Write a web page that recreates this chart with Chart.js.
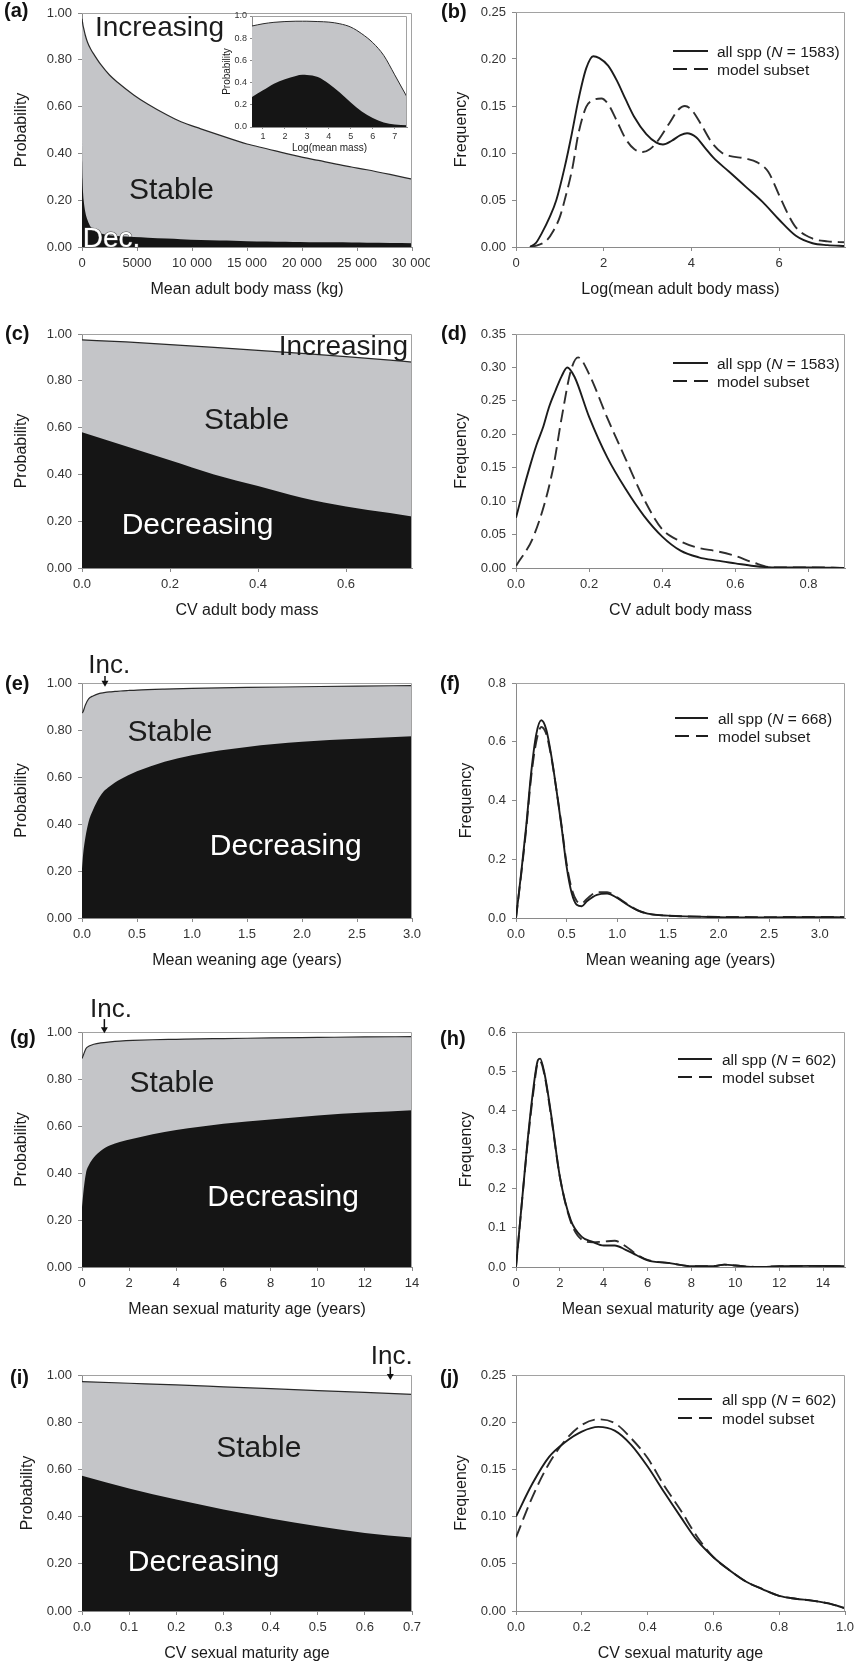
<!DOCTYPE html>
<html><head><meta charset="utf-8">
<script src="https://cdn.jsdelivr.net/npm/chart.js@4.4.1/dist/chart.umd.min.js"></script>
<style>
html,body{margin:0;padding:0;background:#fff;overflow:hidden;width:856px;height:1663px;position:relative;}
canvas{position:absolute;}
</style></head><body>
<script>
// ================= DATA =================
// (a) probability vs mean adult body mass (kg)
const A_X   = [0,20,50,100,150,300,500,800,1100,1700,2500,3200,4700,6000,7700,9000,10800,12500,13800,15000,16800,18500,19800,21500,22900,24500,25900,28000,30000];
const A_TOP = [0.975,0.968,0.96,0.945,0.935,0.905,0.875,0.845,0.822,0.78,0.735,0.705,0.65,0.61,0.565,0.535,0.505,0.478,0.458,0.44,0.42,0.40,0.386,0.37,0.356,0.342,0.33,0.31,0.29];
const A_DEC = [0.46,0.36,0.29,0.23,0.2,0.15,0.115,0.085,0.07,0.058,0.05,0.047,0.043,0.04,0.036,0.033,0.03,0.028,0.027,0.025,0.024,0.022,0.021,0.02,0.02,0.019,0.018,0.017,0.016];
const A_XTICKS = [0,5000,10000,15000,20000,25000,30000];
const A_XLABELS = ['0','5000','10 000','15 000','20 000','25 000','30 000'];
// inset of (a): log(mean mass)
const IN_X   = [0.5,1,1.5,2,2.5,2.8,3,3.5,4,4.5,5,5.5,6,6.5,7,7.56];
const IN_TOP = [0.91,0.93,0.943,0.95,0.953,0.953,0.953,0.95,0.945,0.93,0.9,0.84,0.76,0.645,0.47,0.27];
const IN_DEC = [0.27,0.33,0.39,0.43,0.46,0.47,0.468,0.45,0.39,0.31,0.22,0.14,0.08,0.04,0.022,0.015];
const IN_XTICKS = [1,2,3,4,5,6,7];
const IN_YTICKS = [0,0.2,0.4,0.6,0.8,1.0];
// (b) frequency of log(mean adult body mass)
const B_SOLID_X = [0.32,0.45,0.58,0.77,0.92,1.11,1.27,1.42,1.6,1.76,1.9,2.1,2.3,2.5,2.7,2.97,3.2,3.35,3.55,3.75,3.9,4.1,4.3,4.5,4.86,5.24,5.62,6.0,6.38,6.76,7.1,7.5];
const B_SOLID_Y = [0,0.004,0.014,0.032,0.05,0.085,0.12,0.156,0.19,0.203,0.201,0.193,0.177,0.157,0.138,0.12,0.111,0.109,0.113,0.119,0.121,0.117,0.106,0.095,0.08,0.064,0.048,0.029,0.012,0.004,0.002,0.001];
const B_DASH_X  = [0.32,0.5,0.7,0.85,1.0,1.11,1.29,1.42,1.6,1.75,1.95,2.1,2.29,2.5,2.7,2.89,3.05,3.2,3.5,3.7,3.85,4.0,4.2,4.48,4.7,4.86,5.24,5.5,5.75,6.0,6.2,6.38,6.76,7.1,7.5];
const B_DASH_Y  = [0,0.002,0.007,0.017,0.032,0.05,0.085,0.12,0.149,0.156,0.158,0.152,0.135,0.115,0.104,0.101,0.104,0.111,0.132,0.146,0.15,0.146,0.132,0.11,0.1,0.097,0.094,0.09,0.08,0.055,0.035,0.021,0.009,0.006,0.005];
const B_XTICKS = [0,2,4,6];
const B_YTICKS = [0,0.05,0.10,0.15,0.20,0.25];
const B_N = 1583;
// (c) probability vs CV adult body mass
const C_X   = [0,0.1,0.2,0.3,0.4,0.5,0.6,0.7,0.75];
const C_TOP = [0.975,0.966,0.955,0.943,0.93,0.917,0.903,0.888,0.88];
const C_DEC = [0.58,0.52,0.46,0.40,0.35,0.30,0.263,0.235,0.22];
const C_XTICKS = [0,0.2,0.4,0.6];
// (d) frequency of CV adult body mass
const D_SOLID_X = [0,0.019,0.038,0.056,0.075,0.09,0.107,0.125,0.14,0.16,0.2,0.25,0.3,0.35,0.4,0.45,0.5,0.55,0.6,0.65,0.7,0.8,0.9];
const D_SOLID_Y = [0.075,0.115,0.152,0.184,0.212,0.24,0.264,0.287,0.30,0.286,0.226,0.165,0.118,0.078,0.047,0.026,0.016,0.011,0.007,0.003,0.001,0.001,0];
const D_DASH_X  = [0,0.05,0.1,0.125,0.15,0.17,0.2,0.25,0.3,0.35,0.4,0.45,0.5,0.55,0.6,0.65,0.7,0.8,0.9];
const D_DASH_Y  = [0.003,0.05,0.145,0.225,0.295,0.315,0.29,0.224,0.163,0.103,0.058,0.04,0.03,0.025,0.018,0.008,0.001,0.001,0];
const D_XTICKS = [0,0.2,0.4,0.6,0.8];
const D_YTICKS = [0,0.05,0.10,0.15,0.20,0.25,0.30,0.35];
const D_N = 1583;
// (e) probability vs mean weaning age
const E_X   = [0,0.01,0.03,0.06,0.1,0.16,0.2,0.25,0.3,0.35,0.42,0.5,0.75,1.0,1.5,2.0,2.5,3.0];
const E_TOP = [0.872,0.878,0.905,0.932,0.945,0.956,0.959,0.962,0.964,0.966,0.968,0.97,0.974,0.977,0.981,0.984,0.987,0.989];
const E_DEC = [0.21,0.27,0.34,0.41,0.46,0.515,0.54,0.56,0.577,0.59,0.607,0.624,0.665,0.693,0.728,0.75,0.763,0.773];
const E_XTICKS = [0,0.5,1.0,1.5,2.0,2.5,3.0];
// (f) frequency of mean weaning age
const F_X       = [0,0.05,0.1,0.15,0.2,0.25,0.3,0.35,0.4,0.45,0.5,0.55,0.6,0.65,0.7,0.8,0.9,1.0,1.1,1.2,1.3,1.5,2.0,2.5,3.0,3.25];
const F_SOLID_Y = [0,0.15,0.31,0.495,0.625,0.673,0.64,0.55,0.435,0.31,0.175,0.085,0.045,0.04,0.057,0.079,0.083,0.068,0.045,0.026,0.015,0.008,0.003,0.002,0.003,0.002];
const F_DASH_Y  = [0,0.145,0.30,0.48,0.60,0.65,0.625,0.545,0.435,0.315,0.185,0.1,0.058,0.05,0.065,0.088,0.088,0.07,0.047,0.027,0.015,0.008,0.004,0.003,0.004,0.003];
const F_XTICKS = [0,0.5,1.0,1.5,2.0,2.5,3.0];
const F_YTICKS = [0,0.2,0.4,0.6,0.8];
const F_N = 668;
// (g) probability vs mean sexual maturity age
const G_X   = [0,0.05,0.17,0.3,0.5,0.8,1.2,1.6,2.16,3.0,4.0,5.0,6.0,8.0,10.0,12.0,14.0];
const G_TOP = [0.887,0.9,0.93,0.94,0.948,0.954,0.958,0.961,0.964,0.967,0.969,0.971,0.972,0.975,0.977,0.979,0.98];
const G_DEC = [0.255,0.31,0.40,0.435,0.466,0.495,0.518,0.532,0.546,0.565,0.583,0.597,0.61,0.628,0.645,0.657,0.667];
const G_XTICKS = [0,2,4,6,8,10,12,14];
// (h) frequency of mean sexual maturity age
const H_X       = [0,0.5,0.8,1.0,1.1,1.3,1.6,2.0,2.5,3.0,3.5,4.0,4.5,5.0,5.5,6.0,7.0,8.0,9.0,9.5,10,11,12,13.5,15];
const H_SOLID_Y = [0,0.306,0.46,0.528,0.532,0.494,0.39,0.23,0.119,0.077,0.064,0.055,0.055,0.044,0.03,0.017,0.01,0.002,0.002,0.006,0.004,0,0.002,0.003,0.002];
const H_DASH_Y  = [0,0.3,0.45,0.522,0.525,0.49,0.385,0.23,0.115,0.07,0.063,0.065,0.067,0.053,0.032,0.018,0.01,0.002,0.002,0.006,0.004,0,0.002,0.003,0.002];
const H_XTICKS = [0,2,4,6,8,10,12,14];
const H_YTICKS = [0,0.1,0.2,0.3,0.4,0.5,0.6];
const H_N = 602;
// (i) probability vs CV sexual maturity age
const I_X   = [0,0.1,0.2,0.3,0.4,0.5,0.6,0.7];
const I_TOP = [0.972,0.965,0.958,0.95,0.942,0.934,0.926,0.918];
const I_DEC = [0.573,0.519,0.472,0.43,0.392,0.359,0.331,0.311];
const I_XTICKS = [0,0.1,0.2,0.3,0.4,0.5,0.6,0.7];
// (j) frequency of CV sexual maturity age
const J_X       = [0,0.05,0.1,0.15,0.2,0.25,0.3,0.35,0.4,0.45,0.5,0.55,0.6,0.65,0.7,0.75,0.8,0.85,0.9,0.95,1.0];
const J_SOLID_Y = [0.1,0.135,0.163,0.179,0.19,0.195,0.191,0.176,0.153,0.126,0.1,0.075,0.057,0.043,0.031,0.023,0.016,0.013,0.011,0.008,0.003];
const J_DASH_Y  = [0.078,0.121,0.156,0.181,0.197,0.203,0.199,0.183,0.162,0.133,0.107,0.079,0.057,0.043,0.031,0.023,0.016,0.013,0.011,0.008,0.003];
const J_XTICKS = [0,0.2,0.4,0.6,0.8,1.0];
const J_YTICKS = [0,0.05,0.10,0.15,0.20,0.25];
const J_N = 602;
// shared probability ticks
const P_YTICKS = [0,0.2,0.4,0.6,0.8,1.0];

// ================= STYLE / HELPERS =================
const FONT = '"Liberation Sans", Arial, Helvetica, sans-serif';
Chart.defaults.font.family = FONT;
const GRAY = '#c4c5c8', BLACK = '#151515', AXIS = '#8a8a8a', FRAME = '#a2a2a2';
const fx = d => v => v.toFixed(d);

const deco = {
  id: 'deco',
  afterDraw(chart, args, o) {
    const ctx = chart.ctx, ca = chart.chartArea;
    const xs = chart.scales.x, ys = chart.scales.y;
    ctx.save();
    ctx.strokeStyle = FRAME; ctx.lineWidth = 1;
    ctx.beginPath();
    ctx.moveTo(Math.round(ca.left), Math.round(ca.top) + 0.5);
    ctx.lineTo(Math.round(ca.right) - 0.5, Math.round(ca.top) + 0.5);
    ctx.lineTo(Math.round(ca.right) - 0.5, Math.round(ca.bottom));
    ctx.stroke();
    (o.notes || []).forEach(n => {
      if (n.type === 'text') {
        ctx.font = n.size + 'px ' + FONT;
        ctx.textAlign = 'center'; ctx.textBaseline = 'alphabetic';
        const px = xs.getPixelForValue(n.x), py = ys.getPixelForValue(n.y) + n.size * 0.358;
        if (n.stroke) { ctx.lineWidth = n.strokeWidth || 1; ctx.strokeStyle = n.stroke; ctx.lineJoin = 'round'; ctx.strokeText(n.text, px, py); }
        ctx.fillStyle = n.color; ctx.fillText(n.text, px, py);
      } else if (n.type === 'arrow') {
        const px = xs.getPixelForValue(n.x), y1 = ys.getPixelForValue(n.y1), y2 = ys.getPixelForValue(n.y2);
        ctx.strokeStyle = '#111'; ctx.fillStyle = '#111'; ctx.lineWidth = 1.5;
        ctx.beginPath(); ctx.moveTo(px, y1); ctx.lineTo(px, y2 - 5); ctx.stroke();
        ctx.beginPath(); ctx.moveTo(px - 3.5, y2 - 6); ctx.lineTo(px + 3.5, y2 - 6); ctx.lineTo(px, y2); ctx.closePath(); ctx.fill();
      }
    });
    if (o.letter) {
      const s = 20;
      ctx.font = 'bold ' + s + 'px ' + FONT; ctx.fillStyle = '#111';
      ctx.textAlign = 'left'; ctx.textBaseline = 'alphabetic';
      ctx.fillText(o.letter, o.letterX, ca.top + o.letterDy + s * 0.27);
    }
    if (o.legend) {
      const L = o.legend;
      L.rows.forEach((r, i) => {
        const y = ca.top + L.y[i];
        ctx.beginPath(); ctx.setLineDash(r.dash); ctx.strokeStyle = '#1e1e1e'; ctx.lineWidth = 1.8;
        ctx.moveTo(L.x0, y); ctx.lineTo(L.x1, y); ctx.stroke(); ctx.setLineDash([]);
        let x = L.tx; ctx.textAlign = 'left'; ctx.textBaseline = 'alphabetic'; ctx.fillStyle = '#1a1a1a';
        r.parts.forEach(p => {
          ctx.font = (p.italic ? 'italic ' : '') + L.size + 'px ' + FONT;
          ctx.fillText(p.t, x, y + L.size * 0.358);
          x += ctx.measureText(p.t).width;
        });
      });
    }
    ctx.restore();
  }
};

function pts(xs, ys) { return xs.map((x, i) => ({ x: x, y: ys[i] })); }
function probSets(xs, dec, top, lw) {
  return [
    { data: pts(xs, dec), borderWidth: 0, borderColor: 'rgba(0,0,0,0)', backgroundColor: BLACK, fill: 'origin', cubicInterpolationMode: 'monotone' },
    { data: pts(xs, top), borderWidth: lw || 1.2, borderColor: '#2a2a2a', backgroundColor: GRAY, fill: 'origin', cubicInterpolationMode: 'monotone' }
  ];
}
function freqSets(sx, sy, dx, dy) {
  return [
    { data: pts(sx, sy), borderWidth: 1.9, borderColor: '#1c1c1c', fill: false, cubicInterpolationMode: 'monotone' },
    { data: pts(dx, dy), borderWidth: 1.9, borderColor: '#2e2e2e', borderDash: [13, 6], fill: false, cubicInterpolationMode: 'monotone' }
  ];
}
function legendRows(n) {
  return [
    { dash: [], parts: [{ t: 'all spp (' }, { t: 'N', italic: true }, { t: ' = ' + n + ')' }] },
    { dash: [14, 7], parts: [{ t: 'model subset' }] }
  ];
}

function mk(p) {
  const c = document.createElement('canvas');
  const h = p.padTop + p.plotH + p.xAxisH;
  c.width = p.w; c.height = h;
  c.style.left = p.left + 'px'; c.style.top = (p.plotTop - p.padTop) + 'px';
  c.style.width = p.w + 'px'; c.style.height = h + 'px';
  document.body.appendChild(c);
  const ts = p.tickSize || 13, tl = p.tickLen || 4, tt = p.titleSize || 16;
  new Chart(c, {
    type: 'line',
    data: { datasets: p.datasets },
    options: {
      responsive: false, animation: false, events: [], devicePixelRatio: 1,
      layout: { padding: { top: p.padTop, right: p.padR, left: 0, bottom: 0 } },
      plugins: { legend: { display: false }, tooltip: { enabled: false }, deco: p.deco },
      elements: { point: { radius: 0 } },
      scales: {
        x: {
          type: 'linear', min: p.xMin, max: p.xMax,
          afterBuildTicks: s => { s.ticks = p.xTicks.map(v => ({ value: v })); },
          afterFit: s => { s.height = p.xAxisH; s.paddingLeft = 0; s.paddingRight = 0; },
          ticks: { autoSkip: false, maxRotation: 0, minRotation: 0, padding: p.xTickPad || 5, color: '#333', font: { size: ts },
                   callback: (v, i) => p.xLabels[i] },
          grid: { drawOnChartArea: false, drawTicks: true, tickLength: tl, color: AXIS },
          border: { display: true, color: AXIS, width: 1 },
          title: { display: true, text: p.xTitle, color: '#1a1a1a', font: { size: tt }, padding: { top: 0, bottom: 0 } }
        },
        y: {
          type: 'linear', min: p.yMin, max: p.yMax,
          afterBuildTicks: s => { s.ticks = p.yTicks.map(v => ({ value: v })); },
          afterFit: s => { s.width = p.yW; s.paddingTop = 0; s.paddingBottom = 0; },
          ticks: { autoSkip: false, padding: p.yTickPad || 6, color: '#333', font: { size: ts },
                   callback: (v, i) => p.yLabels[i] },
          grid: { drawOnChartArea: false, drawTicks: true, tickLength: tl, color: AXIS },
          border: { display: true, color: AXIS, width: 1 },
          title: { display: true, text: p.yTitle, color: '#1a1a1a', font: { size: tt }, padding: { top: p.yTitlePad, bottom: 0 } }
        }
      }
    },
    plugins: [deco]
  });
}

const LEFT = { left: 0, w: 430, yW: 82, padR: 18, xAxisH: 52, yTitle: 'Probability', yTitlePad: 12.4, yMin: 0, yMax: 1, yTicks: P_YTICKS, yLabels: P_YTICKS.map(fx(2)) };
const RIGHT = { left: 430, w: 426, yW: 86, padR: 11, xAxisH: 52, yTitle: 'Frequency', yTitlePad: 22.4, yMin: 0 };
const W = '#ffffff', T = '#1c1c1c';

// (a)
mk(Object.assign({}, LEFT, {
  plotTop: 13, plotH: 234, padTop: 13,
  xMin: 0, xMax: 30000, xTicks: A_XTICKS, xLabels: A_XLABELS, xTitle: 'Mean adult body mass (kg)',
  datasets: probSets(A_X, A_DEC, A_TOP),
  deco: { letter: '(a)', letterX: 4, letterDy: -1, notes: [
    { type: 'text', text: 'Increasing', x: 7045, y: 0.945, size: 28, color: T },
    { type: 'text', text: 'Stable', x: 8136, y: 0.251, size: 30, color: T },
    { type: 'text', text: 'Dec.', x: 2682, y: 0.044, size: 28, color: W, stroke: '#555', strokeWidth: 1 }
  ] }
}));
// inset of (a)
mk({
  left: 218, w: 195, yW: 34, padR: 6, plotTop: 16, plotH: 111, padTop: 8, xAxisH: 27,
  tickSize: 9, titleSize: 10, tickLen: 2, xTickPad: 2.6, yTickPad: 3, yTitlePad: 3,
  xMin: 0.5, xMax: 7.56, xTicks: IN_XTICKS, xLabels: IN_XTICKS.map(String), xTitle: 'Log(mean mass)',
  yMin: 0, yMax: 1, yTicks: IN_YTICKS, yLabels: IN_YTICKS.map(fx(1)), yTitle: 'Probability',
  datasets: probSets(IN_X, IN_DEC, IN_TOP, 1),
  deco: {}
});
// (b)
mk(Object.assign({}, RIGHT, {
  plotTop: 12, plotH: 235, padTop: 12,
  xMin: 0, xMax: 7.5, xTicks: B_XTICKS, xLabels: B_XTICKS.map(String), xTitle: 'Log(mean adult body mass)',
  yMax: 0.25, yTicks: B_YTICKS, yLabels: B_YTICKS.map(fx(2)),
  datasets: freqSets(B_SOLID_X, B_SOLID_Y, B_DASH_X, B_DASH_Y),
  deco: { letter: '(b)', letterX: 11, letterDy: 1,
    legend: { x0: 243, x1: 278, tx: 287, size: 15.5, y: [39, 57], rows: legendRows(B_N) } }
}));
// (c)
mk(Object.assign({}, LEFT, {
  plotTop: 334, plotH: 234, padTop: 45,
  xMin: 0, xMax: 0.75, xTicks: C_XTICKS, xLabels: C_XTICKS.map(fx(1)), xTitle: 'CV adult body mass',
  datasets: probSets(C_X, C_DEC, C_TOP),
  deco: { letter: '(c)', letterX: 5, letterDy: 0.5, notes: [
    { type: 'text', text: 'Increasing', x: 0.594, y: 0.953, size: 28, color: T },
    { type: 'text', text: 'Stable', x: 0.374, y: 0.640, size: 30, color: T },
    { type: 'text', text: 'Decreasing', x: 0.2625, y: 0.191, size: 30, color: W }
  ] }
}));
// (d)
mk(Object.assign({}, RIGHT, {
  plotTop: 334, plotH: 234, padTop: 45,
  xMin: 0, xMax: 0.9, xTicks: D_XTICKS, xLabels: D_XTICKS.map(fx(1)), xTitle: 'CV adult body mass',
  yMax: 0.35, yTicks: D_YTICKS, yLabels: D_YTICKS.map(fx(2)),
  datasets: freqSets(D_SOLID_X, D_SOLID_Y, D_DASH_X, D_DASH_Y),
  deco: { letter: '(d)', letterX: 11, letterDy: 0.5,
    legend: { x0: 243, x1: 278, tx: 287, size: 15.5, y: [29, 47], rows: legendRows(D_N) } }
}));
// (e)
mk(Object.assign({}, LEFT, {
  plotTop: 683, plotH: 235, padTop: 45,
  xMin: 0, xMax: 3, xTicks: E_XTICKS, xLabels: E_XTICKS.map(fx(1)), xTitle: 'Mean weaning age (years)',
  datasets: probSets(E_X, E_DEC, E_TOP),
  deco: { letter: '(e)', letterX: 5, letterDy: 1.7, notes: [
    { type: 'text', text: 'Inc.', x: 0.247, y: 1.084, size: 26, color: T },
    { type: 'arrow', x: 0.209, y1: 1.03, y2: 0.984 },
    { type: 'text', text: 'Stable', x: 0.8, y: 0.801, size: 30, color: T },
    { type: 'text', text: 'Decreasing', x: 1.852, y: 0.313, size: 30, color: W }
  ] }
}));
// (f)
mk(Object.assign({}, RIGHT, {
  plotTop: 683, plotH: 235, padTop: 45, yTitlePad: 27.4,
  xMin: 0, xMax: 3.25, xTicks: F_XTICKS, xLabels: F_XTICKS.map(fx(1)), xTitle: 'Mean weaning age (years)',
  yMax: 0.8, yTicks: F_YTICKS, yLabels: F_YTICKS.map(fx(1)),
  datasets: freqSets(F_X, F_SOLID_Y, F_X, F_DASH_Y),
  deco: { letter: '(f)', letterX: 10, letterDy: 1.7,
    legend: { x0: 245, x1: 278, tx: 288, size: 15.5, y: [35, 53], rows: legendRows(F_N) } }
}));
// (g)
mk(Object.assign({}, LEFT, {
  plotTop: 1032, plotH: 235, padTop: 45,
  xMin: 0, xMax: 14, xTicks: G_XTICKS, xLabels: G_XTICKS.map(String), xTitle: 'Mean sexual maturity age (years)',
  datasets: probSets(G_X, G_DEC, G_TOP),
  deco: { letter: '(g)', letterX: 10, letterDy: 7, notes: [
    { type: 'text', text: 'Inc.', x: 1.227, y: 1.104, size: 26, color: T },
    { type: 'arrow', x: 0.949, y1: 1.055, y2: 0.995 },
    { type: 'text', text: 'Stable', x: 3.817, y: 0.789, size: 30, color: T },
    { type: 'text', text: 'Decreasing', x: 8.53, y: 0.306, size: 30, color: W }
  ] }
}));
// (h)
mk(Object.assign({}, RIGHT, {
  plotTop: 1032, plotH: 235, padTop: 45, yTitlePad: 27.4,
  xMin: 0, xMax: 15, xTicks: H_XTICKS, xLabels: H_XTICKS.map(String), xTitle: 'Mean sexual maturity age (years)',
  yMax: 0.6, yTicks: H_YTICKS, yLabels: H_YTICKS.map(fx(1)),
  datasets: freqSets(H_X, H_SOLID_Y, H_X, H_DASH_Y),
  deco: { letter: '(h)', letterX: 10, letterDy: 8,
    legend: { x0: 248, x1: 282, tx: 292, size: 15.5, y: [27, 45], rows: legendRows(H_N) } }
}));
// (i)
mk(Object.assign({}, LEFT, {
  plotTop: 1375, plotH: 236, padTop: 45, yTitlePad: 18,
  xMin: 0, xMax: 0.7, xTicks: I_XTICKS, xLabels: I_XTICKS.map(fx(1)), xTitle: 'CV sexual maturity age',
  datasets: probSets(I_X, I_DEC, I_TOP),
  deco: { letter: '(i)', letterX: 10, letterDy: 4, notes: [
    { type: 'text', text: 'Inc.', x: 0.657, y: 1.088, size: 26, color: T },
    { type: 'arrow', x: 0.654, y1: 1.035, y2: 0.979 },
    { type: 'text', text: 'Stable', x: 0.375, y: 0.696, size: 30, color: T },
    { type: 'text', text: 'Decreasing', x: 0.258, y: 0.216, size: 30, color: W }
  ] }
}));
// (j)
mk(Object.assign({}, RIGHT, {
  plotTop: 1375, plotH: 236, padTop: 45,
  xMin: 0, xMax: 1.0, xTicks: J_XTICKS, xLabels: J_XTICKS.map(fx(1)), xTitle: 'CV sexual maturity age',
  yMax: 0.25, yTicks: J_YTICKS, yLabels: J_YTICKS.map(fx(2)),
  datasets: freqSets(J_X, J_SOLID_Y, J_X, J_DASH_Y),
  deco: { letter: '(j)', letterX: 10, letterDy: 4,
    legend: { x0: 248, x1: 282, tx: 292, size: 15.5, y: [24, 43], rows: legendRows(J_N) } }
}));
</script>
</body></html>
